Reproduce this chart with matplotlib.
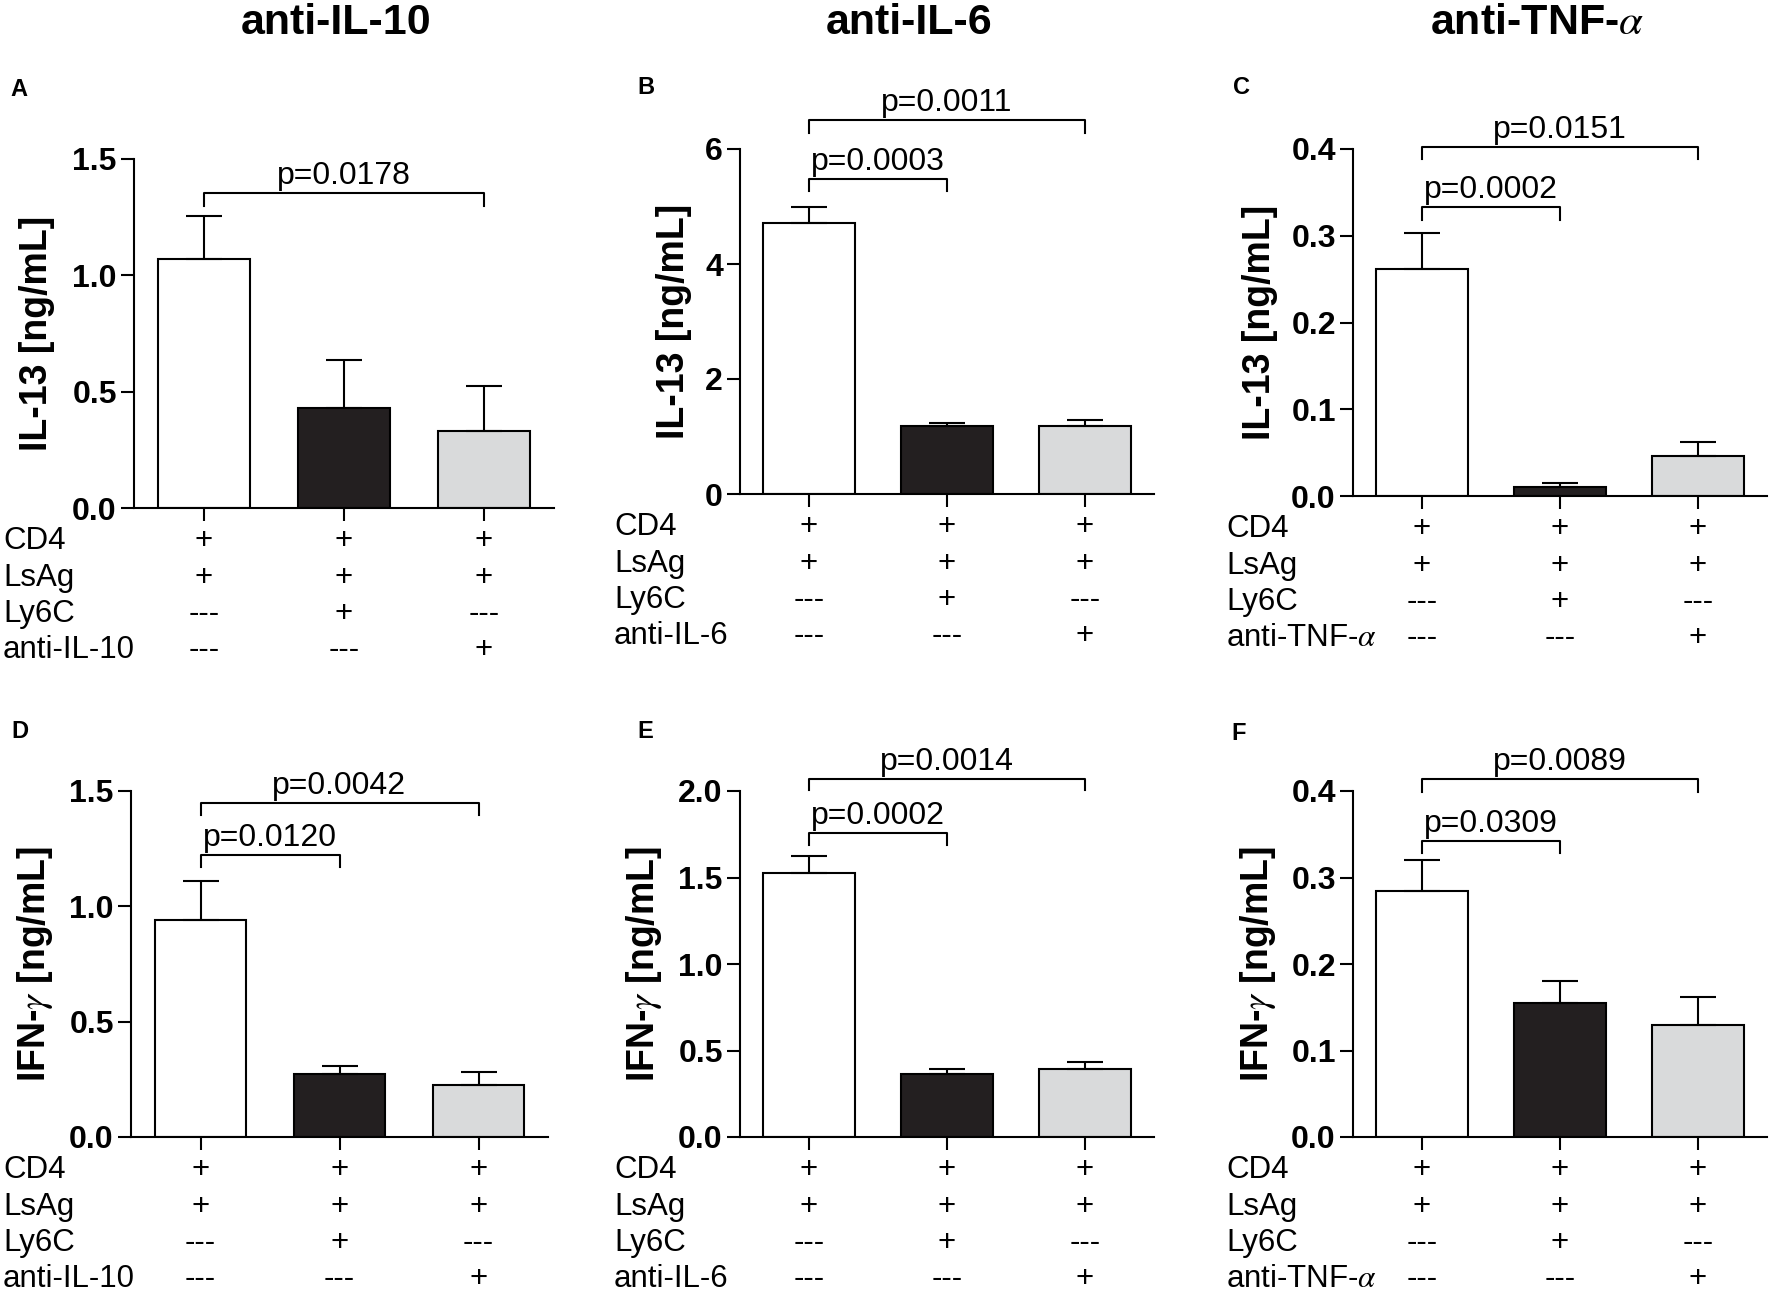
import matplotlib
matplotlib.use("Agg")
import matplotlib.pyplot as plt
import numpy as np

plt.rcParams['font.family'] = ['Liberation Sans', 'DejaVu Sans']
plt.rcParams['mathtext.fontset'] = 'stix'

# ---------------- data ----------------
groups = [0, 1, 2]
bar_colors = ['#ffffff', '#231f20', '#d9dadb']
row_names_il10 = ['CD4', 'LsAg', 'Ly6C', 'anti-IL-10']
row_names_il6 = ['CD4', 'LsAg', 'Ly6C', 'anti-IL-6']
row_names_tnf = ['CD4', 'LsAg', 'Ly6C', 'anti-TNF-$\\alpha$']
row_signs = [['+', '+', '+'],
             ['+', '+', '+'],
             ['---', '+', '---'],
             ['---', '---', '+']]

col_titles = ['anti-IL-10', 'anti-IL-6', 'anti-TNF-$\\alpha$']
panel_letters = ['A', 'B', 'C', 'D', 'E', 'F']
ylabels = ['IL-13 [ng/mL]', 'IL-13 [ng/mL]', 'IL-13 [ng/mL]',
           'IFN-$\\gamma$ [ng/mL]', 'IFN-$\\gamma$ [ng/mL]', 'IFN-$\\gamma$ [ng/mL]']

means_A = [1.072, 0.430, 0.330]
sem_A = [0.185, 0.204, 0.194]
means_B = [4.71, 1.18, 1.19]
sem_B = [0.28, 0.05, 0.10]
means_C = [0.262, 0.010, 0.046]
sem_C = [0.041, 0.0045, 0.016]
means_D = [0.941, 0.273, 0.227]
sem_D = [0.169, 0.033, 0.056]
means_E = [1.528, 0.364, 0.395]
sem_E = [0.097, 0.027, 0.036]
means_F = [0.284, 0.155, 0.129]
sem_F = [0.036, 0.025, 0.033]

yticks_A = [0.0, 0.5, 1.0, 1.5]
ytl_A = ['0.0', '0.5', '1.0', '1.5']
yticks_B = [0, 2, 4, 6]
ytl_B = ['0', '2', '4', '6']
yticks_C = [0.0, 0.1, 0.2, 0.3, 0.4]
ytl_C = ['0.0', '0.1', '0.2', '0.3', '0.4']
yticks_D = [0.0, 0.5, 1.0, 1.5]
ytl_D = ['0.0', '0.5', '1.0', '1.5']
yticks_E = [0.0, 0.5, 1.0, 1.5, 2.0]
ytl_E = ['0.0', '0.5', '1.0', '1.5', '2.0']
yticks_F = [0.0, 0.1, 0.2, 0.3, 0.4]
ytl_F = ['0.0', '0.1', '0.2', '0.3', '0.4']

# comparisons: (group i, group j, bracket level, bracket foot, label)
comp_A = [(0, 2, 1.354, 1.300, 'p=0.0178')]
comp_B = [(0, 1, 5.47, 5.27, 'p=0.0003'), (0, 2, 6.51, 6.28, 'p=0.0011')]
comp_C = [(0, 1, 0.3336, 0.318, 'p=0.0002'), (0, 2, 0.402, 0.389, 'p=0.0151')]
comp_D = [(0, 1, 1.222, 1.170, 'p=0.0120'), (0, 2, 1.447, 1.398, 'p=0.0042')]
comp_E = [(0, 1, 1.758, 1.687, 'p=0.0002'), (0, 2, 2.069, 2.003, 'p=0.0014')]
comp_F = [(0, 1, 0.342, 0.328, 'p=0.0309'), (0, 2, 0.414, 0.3986, 'p=0.0089')]

# ---------------- layout (pixels) ----------------
W, H = 1772, 1294
fig = plt.figure(figsize=(W / 100, H / 100), dpi=100)

# left, right, top, bottom of each axes in pixels
boxes = [(134, 554, 159, 508), (740, 1154, 149, 494), (1353, 1767, 149, 496),
         (131, 548, 791, 1137), (740, 1154, 791, 1137), (1353, 1767, 791, 1137)]
ylabel_x = [37, 674, 1260, 35, 644, 1258]
rowlabel_x = [3, 614, 1226, 3, 614, 1226]
letter_pos = [(19, 89), (646, 87), (1241, 87), (20, 732), (645, 732), (1239, 733)]
title_pos = [(336, 23), (909, 23), (1537, 23)]
row_baseline_off = [41, 78, 114, 150]

panels = [
    (means_A, sem_A, yticks_A, ytl_A, comp_A, row_names_il10),
    (means_B, sem_B, yticks_B, ytl_B, comp_B, row_names_il6),
    (means_C, sem_C, yticks_C, ytl_C, comp_C, row_names_tnf),
    (means_D, sem_D, yticks_D, ytl_D, comp_D, row_names_il10),
    (means_E, sem_E, yticks_E, ytl_E, comp_E, row_names_il6),
    (means_F, sem_F, yticks_F, ytl_F, comp_F, row_names_tnf),
]

LW = 1.5
for k, (means, sem, yt, ytl, comps, rnames) in enumerate(panels):
    l, r, t, b = boxes[k]
    ax = fig.add_axes([l / W, 1 - b / H, (r - l) / W, (b - t) / H])
    ax.bar(groups, means, width=0.66, color=bar_colors, edgecolor='black',
           linewidth=LW, zorder=2)
    ax.errorbar(groups, means, yerr=[np.zeros(len(sem)), sem], fmt='none',
                ecolor='black', elinewidth=LW, capsize=13, capthick=LW, zorder=3)
    ax.set_xlim(-0.5, 2.5)
    ax.set_ylim(yt[0], yt[-1])
    ax.set_yticks(yt)
    ax.set_yticklabels(ytl, fontsize=23, fontweight='bold')
    ax.set_xticks(groups)
    ax.set_xticklabels([])
    for s in ['top', 'right']:
        ax.spines[s].set_visible(False)
    for s in ['left', 'bottom']:
        ax.spines[s].set_linewidth(LW)
    ax.tick_params(axis='both', direction='out', length=9.4, width=LW, pad=3)

    # brackets
    for (i, j, lev, foot, lab) in comps:
        ax.plot([groups[i], groups[i], groups[j], groups[j]], [foot, lev, lev, foot],
                color='black', lw=LW, clip_on=False, zorder=4)
        ax.annotate(lab, xy=((groups[i] + groups[j]) / 2, lev), xytext=(0, 6.5),
                    textcoords='offset points', ha='center', va='baseline',
                    fontsize=23, annotation_clip=False)

    # y label
    fig.text(ylabel_x[k] / W, 1 - ((t + b) / 2) / H, ylabels[k], rotation=90,
             ha='center', va='center', fontsize=27, fontweight='bold')

    # row labels and signs
    for ri, name in enumerate(rnames):
        ypix = b + row_baseline_off[ri]
        fig.text(rowlabel_x[k] / W, 1 - ypix / H, name, ha='left', va='baseline',
                 fontsize=22.5)
        for gi in groups:
            xfig = (l + (gi + 0.5) / 3 * (r - l)) / W
            fig.text(xfig, 1 - ypix / H, row_signs[ri][gi], ha='center',
                     va='baseline', fontsize=22.5)

    # panel letter
    lx, ly = letter_pos[k]
    fig.text(lx / W, 1 - ly / H, panel_letters[k], ha='center', va='center',
             fontsize=17, fontweight='bold')

for c, (tx, ty) in enumerate(title_pos):
    fig.text(tx / W, 1 - ty / H, col_titles[c], ha='center', va='center',
             fontsize=31, fontweight='bold')

fig.savefig('out.png', dpi=100)
